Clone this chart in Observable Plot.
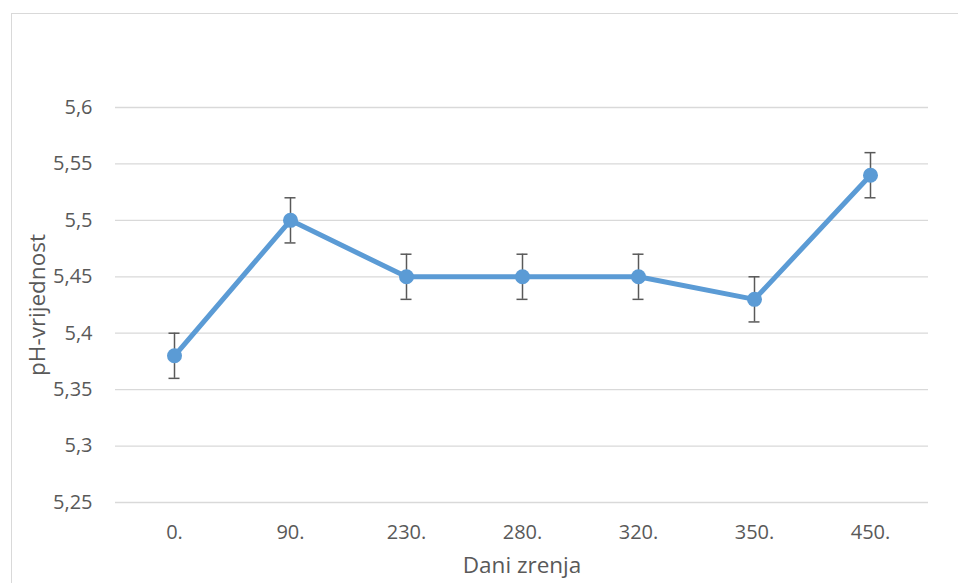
<!DOCTYPE html>
<html>
<head>
<meta charset="utf-8">
<script src="https://cdn.jsdelivr.net/npm/d3@7"></script>
<script src="https://cdn.jsdelivr.net/npm/@observablehq/plot@0.6"></script>
<style>
  html, body { margin: 0; padding: 0; background: #fff; }
  #wrap { position: relative; width: 958px; height: 583px; overflow: hidden; }
  #border { position: absolute; left: 11px; top: 13px; width: 960px; height: 600px; border: 1px solid #D9D9D9; box-sizing: border-box; }
  #chart { position: absolute; left: 0; top: 0; }
</style>
</head>
<body>
<div id="wrap"><div id="border"></div><div id="chart"></div></div>
<script>
const days = ["0.", "90.", "230.", "280.", "320.", "350.", "450."];
const ph = [5.38, 5.50, 5.45, 5.45, 5.45, 5.43, 5.54];
const err = [0.02, 0.02, 0.02, 0.02, 0.02, 0.02, 0.02];
const yTicks = [5.25, 5.3, 5.35, 5.4, 5.45, 5.5, 5.55, 5.6];

const data = days.map((d, i) => ({day: d, ph: ph[i], lo: ph[i] - err[i], hi: ph[i] + err[i]}));
const fmt = v => String(+v.toFixed(2)).replace(".", ",");

const plot = Plot.plot({
  width: 958,
  height: 583,
  marginLeft: 115,
  marginRight: 30,
  marginTop: 107,
  marginBottom: 81,
  style: {fontFamily: "'Open Sans', sans-serif", fontSize: "20px", color: "#595959", background: "transparent"},
  x: {type: "point", domain: days, padding: 0.5, label: null},
  y: {domain: [5.25, 5.6], label: null},
  marks: [
    Plot.gridY(yTicks, {stroke: "#D9D9D9", strokeOpacity: 1, strokeWidth: 1.3}),
    Plot.axisY(yTicks, {tickSize: 0, tickPadding: 23, tickFormat: fmt, fill: "#595959", fontSize: 20}),
    Plot.axisX(days, {tickSize: 0, tickPadding: 22, fill: "#595959", fontSize: 20}),
    Plot.line(data, {x: "day", y: "ph", stroke: "#5B9BD5", strokeWidth: 5, strokeLinejoin: "round"}),
    Plot.ruleX(data, {x: "day", y1: "lo", y2: "hi", stroke: "#595959", strokeWidth: 1.5}),
    Plot.ruleY(data, {x1: "day", x2: "day", y: "hi", insetLeft: -5.5, insetRight: -5.5, stroke: "#595959", strokeWidth: 1.5}),
    Plot.ruleY(data, {x1: "day", x2: "day", y: "lo", insetLeft: -5.5, insetRight: -5.5, stroke: "#595959", strokeWidth: 1.5}),
    Plot.dot(data, {x: "day", y: "ph", r: 7.5, fill: "#5B9BD5", stroke: "none"}),
    Plot.text(["Dani zrenja"], {frameAnchor: "bottom", dy: 70, fontSize: 22.5, fill: "#595959", textAnchor: "middle"}),
    Plot.text(["pH-vrijednost"], {frameAnchor: "left", dx: -78, rotate: -90, fontSize: 22.5, fill: "#595959", textAnchor: "middle"})
  ]
});
document.getElementById("chart").appendChild(plot);
</script>
</body>
</html>
